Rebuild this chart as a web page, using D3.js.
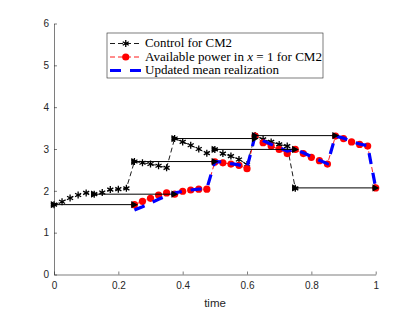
<!DOCTYPE html>
<html><head><meta charset="utf-8">
<script src="https://cdn.jsdelivr.net/npm/d3@7"></script>
<style>body{margin:0;background:#fff}svg{display:block}</style>
</head><body>
<svg id="c" width="415" height="312"></svg>
<script>
// ---- data ----
const controlT = [0,0.025,0.05,0.075,0.1,0.125,0.15,0.175,0.2,0.225,0.25,0.275,0.3,0.325,0.35,0.375,0.4,0.425,0.45,0.475,0.5,0.525,0.55,0.575,0.6,0.625,0.65,0.675,0.7,0.725,0.75];
const controlV = [1.67,1.74,1.83,1.90,1.95,1.92,1.96,2.03,2.04,2.06,2.70,2.67,2.64,2.60,2.55,3.25,3.17,3.09,3.00,2.90,2.99,2.89,2.83,2.75,2.63,3.32,3.23,3.17,3.11,3.07,2.06];
const powerT = [0.25,0.275,0.3,0.325,0.35,0.375,0.4,0.425,0.45,0.475,0.5,0.525,0.55,0.575,0.6,0.625,0.65,0.675,0.7,0.725,0.75,0.775,0.8,0.825,0.85,0.875,0.9,0.925,0.95,0.975,1.0];
const powerV = [1.67,1.75,1.82,1.90,1.95,1.92,1.99,2.02,2.04,2.04,2.69,2.67,2.64,2.61,2.53,3.31,3.15,3.07,2.99,2.89,2.99,2.89,2.80,2.72,2.64,3.31,3.25,3.17,3.11,3.07,2.07];
const meanV  = [1.54,1.62,1.71,1.80,1.88,1.95,1.99,2.02,2.04,2.05,2.70,2.69,2.65,2.62,2.55,3.32,3.20,3.11,3.03,2.95,2.99,2.91,2.82,2.73,2.65,3.31,3.26,3.18,3.12,3.08,2.07];
const arrowStart = [0,0.125,0.25,0.375,0.5,0.625,0.75];
const arrowEnd   = [0.25,0.375,0.5,0.625,0.75,0.875,1.0];
const arrowV     = [1.67,1.92,2.70,3.25,2.99,3.32,2.07];
const xTicks = [0,0.2,0.4,0.6,0.8,1];
const xTickLabels = ["0","0.2","0.4","0.6","0.8","1"];
const yTicks = [0,1,2,3,4,5,6];
const legendLabels = ["Control for CM2","Available power in x = 1 for CM2","Updated mean realization"];

// ---- layout ----
const svg = d3.select("#c");
svg.append("rect").attr("width",415).attr("height",312).attr("fill","#fff");
const x = d3.scaleLinear().domain([0,1]).range([54,375.7]);
const y = d3.scaleLinear().domain([0,6]).range([274.5,23.5]);
const axisCol = "#262626";

const gx = svg.append("g").attr("transform","translate(0,274.5)")
  .call(d3.axisBottom(x).tickValues(xTicks).tickFormat((d,i)=>xTickLabels[i]).tickSizeInner(-3).tickSizeOuter(0).tickPadding(7));
const gy = svg.append("g").attr("transform","translate(54,0)")
  .call(d3.axisLeft(y).tickValues(yTicks).tickFormat(d3.format("d")).tickSizeInner(-3).tickSizeOuter(0).tickPadding(5));
[gx,gy].forEach(g=>{
  g.selectAll("path,line").attr("stroke",axisCol).attr("stroke-width",0.6);
  g.selectAll("text").attr("fill",axisCol).attr("font-family","Liberation Sans, Arial, sans-serif").attr("font-size",10);
});
svg.append("text").attr("x",215).attr("y",307).attr("text-anchor","middle")
  .attr("font-family","Liberation Sans, Arial, sans-serif").attr("font-size",11.5).attr("fill",axisCol).text("time");

const plot = svg.append("g");
const line = d3.line().x(d=>x(d[0])).y(d=>y(d[1]));
const ctrl = controlT.map((t,i)=>[t,controlV[i]]);
const pow = powerT.map((t,i)=>[t,powerV[i]]);
const mean = powerT.map((t,i)=>[t,meanV[i]]);

const star = d3.symbol().type(d3.symbolAsterisk).size(34);
// control
plot.append("path").attr("d",line(ctrl)).attr("fill","none").attr("stroke","#000").attr("stroke-width",0.9).attr("stroke-dasharray","5,3");
plot.selectAll(".st").data(ctrl).join("path").attr("d",star)
  .attr("transform",d=>`translate(${x(d[0])},${y(d[1])})`).attr("fill","none").attr("stroke","#000").attr("stroke-width",1.3);
// available power
plot.append("path").attr("d",line(pow)).attr("fill","none").attr("stroke","#ff0000").attr("stroke-width",0.9).attr("stroke-dasharray","5,3");
plot.selectAll(".rc").data(pow).join("circle").attr("cx",d=>x(d[0])).attr("cy",d=>y(d[1])).attr("r",3.6).attr("fill","#ff0000");
// updated mean
plot.append("path").attr("d",line(mean)).attr("fill","none").attr("stroke","#0000ff").attr("stroke-width",3.2).attr("stroke-dasharray","11,9");
// arrows
const tri = "M-3.2,-3.6L3.6,0L-3.2,3.6Z";
arrowStart.forEach((t0,i)=>{
  const g = plot.append("g");
  g.append("line").attr("x1",x(t0)).attr("x2",x(arrowEnd[i])).attr("y1",y(arrowV[i])).attr("y2",y(arrowV[i]))
    .attr("stroke","#000").attr("stroke-width",1);
  [t0,arrowEnd[i]].forEach(t=>g.append("path").attr("d",tri).attr("fill","#000")
    .attr("transform",`translate(${x(t)},${y(arrowV[i])})`));
});

// legend
const lg = svg.append("g");
lg.append("rect").attr("x",107).attr("y",33).attr("width",216).attr("height",45)
  .attr("fill","#fff").attr("stroke",axisCol).attr("stroke-width",0.6);
const rowsY = [43.5,57,70.5];
const sx1 = 110, sx2 = 141.5, smid = 125.75;
// row 1
lg.append("line").attr("x1",sx1).attr("x2",sx2).attr("y1",rowsY[0]).attr("y2",rowsY[0]).attr("stroke","#000").attr("stroke-width",0.9).attr("stroke-dasharray","5,3");
lg.append("path").attr("d",star).attr("transform",`translate(${smid},${rowsY[0]})`).attr("fill","none").attr("stroke","#000").attr("stroke-width",1.3);
// row 2
lg.append("line").attr("x1",sx1).attr("x2",sx2).attr("y1",rowsY[1]).attr("y2",rowsY[1]).attr("stroke","#ff0000").attr("stroke-width",0.9).attr("stroke-dasharray","5,3");
lg.append("circle").attr("cx",smid).attr("cy",rowsY[1]).attr("r",3.6).attr("fill","#ff0000");
// row 3
lg.append("line").attr("x1",sx1).attr("x2",sx2).attr("y1",rowsY[2]).attr("y2",rowsY[2]).attr("stroke","#0000ff").attr("stroke-width",3.2).attr("stroke-dasharray","11,9");
const tf = "Liberation Serif, Times New Roman, serif";
const txtLen = [87,177,134];
legendLabels.forEach((s,i)=>{
  const t = lg.append("text").attr("x",145).attr("y",rowsY[i]+3.8).attr("font-family",tf).attr("font-size",12.5).attr("fill","#000")
    .attr("textLength",txtLen[i]).attr("lengthAdjust","spacingAndGlyphs");
  if (s.includes("x = 1")) {
    const parts = s.split("x");
    t.append("tspan").text(parts[0]);
    t.append("tspan").attr("font-style","italic").text("x");
    t.append("tspan").text(parts.slice(1).join("x"));
  } else t.text(s);
});
</script>
</body></html>
